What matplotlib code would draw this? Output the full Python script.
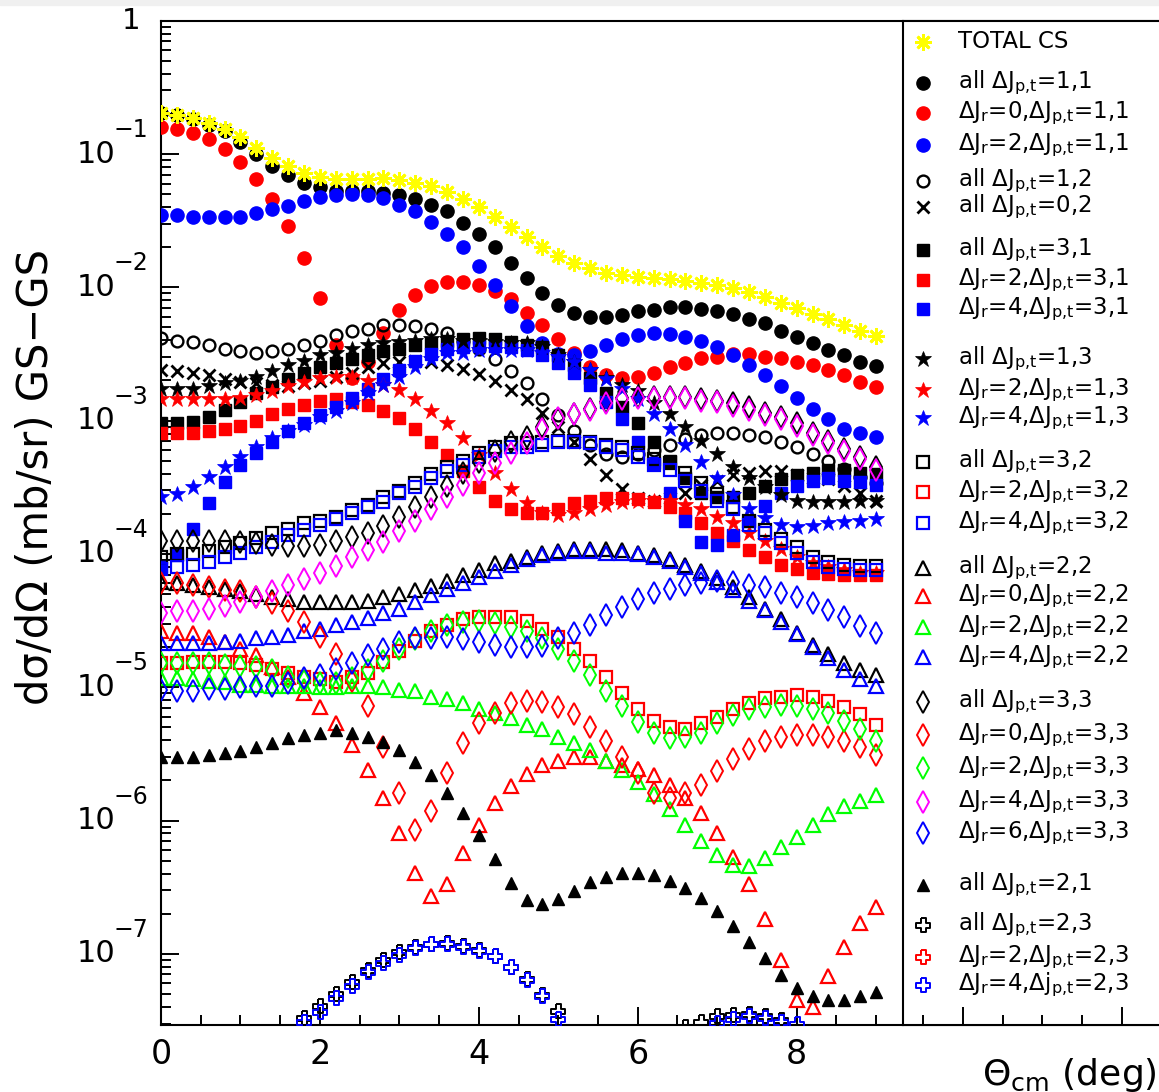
import numpy as np
import matplotlib
matplotlib.use('Agg')
import matplotlib.pyplot as plt
import matplotlib.transforms as mtransforms
from matplotlib.ticker import LogLocator, MultipleLocator, NullFormatter

plt.rcParams['font.family'] = ['DejaVu Sans']
plt.rcParams['mathtext.default'] = 'regular'

# scattering angle grid (deg)
theta = np.linspace(0, 9, 46)

# log10( dsigma/dOmega [mb/sr] ), one value per angle
total_cs = [-0.695, -0.707, -0.732, -0.770, -0.815, -0.875, -0.957, -1.032, -1.090, -1.145,
            -1.175, -1.188, -1.188, -1.188, -1.182, -1.195, -1.218, -1.240, -1.285, -1.338,
            -1.398, -1.473, -1.548, -1.623, -1.698, -1.765, -1.818, -1.855, -1.893, -1.908,
            -1.923, -1.930, -1.938, -1.953, -1.968, -1.983, -2.005, -2.035, -2.073, -2.118,
            -2.155, -2.200, -2.238, -2.283, -2.328, -2.365]
all_11 = [-0.69, -0.71, -0.74, -0.78, -0.83, -0.91, -1.00, -1.09, -1.16, -1.22,
          -1.25, -1.28, -1.28, -1.28, -1.29, -1.31, -1.34, -1.38, -1.43, -1.52,
          -1.60, -1.70, -1.82, -1.93, -2.04, -2.13, -2.19, -2.22, -2.22, -2.21,
          -2.18, -2.17, -2.15, -2.15, -2.16, -2.18, -2.20, -2.24, -2.27, -2.33,
          -2.37, -2.42, -2.47, -2.51, -2.56, -2.59]
r0_11 = [-0.80, -0.81, -0.84, -0.89, -0.96, -1.06, -1.19, -1.34, -1.54, -1.78,
         -2.08, -2.43, -2.68, -2.56, -2.34, -2.17, -2.06, -1.99, -1.96, -1.96,
         -1.98, -2.03, -2.09, -2.19, -2.28, -2.39, -2.49, -2.60, -2.66, -2.68,
         -2.67, -2.64, -2.60, -2.57, -2.53, -2.52, -2.50, -2.50, -2.52, -2.53,
         -2.56, -2.58, -2.62, -2.66, -2.71, -2.75]
r2_11 = [-1.46, -1.46, -1.47, -1.47, -1.47, -1.47, -1.44, -1.41, -1.39, -1.35,
         -1.32, -1.31, -1.30, -1.31, -1.33, -1.38, -1.43, -1.51, -1.60, -1.70,
         -1.84, -1.98, -2.14, -2.29, -2.42, -2.50, -2.51, -2.48, -2.43, -2.39,
         -2.36, -2.34, -2.35, -2.37, -2.40, -2.45, -2.51, -2.58, -2.66, -2.74,
         -2.83, -2.91, -2.99, -3.06, -3.09, -3.12]
all_12 = [-2.38, -2.40, -2.41, -2.43, -2.46, -2.48, -2.49, -2.48, -2.46, -2.43,
          -2.40, -2.36, -2.33, -2.31, -2.28, -2.28, -2.29, -2.31, -2.34, -2.40,
          -2.46, -2.54, -2.63, -2.72, -2.84, -2.96, -3.08, -3.18, -3.25, -3.27,
          -3.25, -3.22, -3.18, -3.14, -3.11, -3.09, -3.09, -3.11, -3.12, -3.16,
          -3.20, -3.25, -3.30, -3.36, -3.42, -3.47]
all_02 = [-2.62, -2.63, -2.64, -2.66, -2.69, -2.71, -2.72, -2.73, -2.74, -2.72,
          -2.70, -2.67, -2.64, -2.60, -2.57, -2.56, -2.55, -2.56, -2.58, -2.61,
          -2.65, -2.70, -2.77, -2.84, -2.94, -3.05, -3.16, -3.29, -3.41, -3.51,
          -3.58, -3.60, -3.58, -3.54, -3.48, -3.45, -3.41, -3.39, -3.38, -3.38,
          -3.41, -3.43, -3.44, -3.49, -3.54, -3.60]
all_31 = [-3.02, -3.02, -3.01, -2.97, -2.92, -2.86, -2.79, -2.75, -2.69, -2.64,
          -2.60, -2.57, -2.54, -2.51, -2.48, -2.46, -2.43, -2.42, -2.40, -2.39,
          -2.38, -2.39, -2.41, -2.43, -2.45, -2.51, -2.58, -2.68, -2.79, -2.90,
          -3.02, -3.16, -3.30, -3.43, -3.54, -3.57, -3.57, -3.54, -3.49, -3.44,
          -3.41, -3.39, -3.37, -3.37, -3.39, -3.40]
r2_31 = [-3.09, -3.09, -3.09, -3.08, -3.06, -3.04, -3.00, -2.95, -2.91, -2.88,
         -2.85, -2.84, -2.86, -2.88, -2.93, -2.98, -3.06, -3.16, -3.26, -3.38,
         -3.50, -3.60, -3.66, -3.69, -3.69, -3.66, -3.62, -3.60, -3.58, -3.58,
         -3.59, -3.61, -3.65, -3.69, -3.77, -3.84, -3.90, -3.97, -4.02, -4.08,
         -4.11, -4.14, -4.15, -4.16, -4.16, -4.16]
r4_31 = [-4.10, -4.01, -3.81, -3.62, -3.46, -3.33, -3.24, -3.16, -3.08, -3.02,
         -2.96, -2.90, -2.83, -2.76, -2.69, -2.62, -2.55, -2.50, -2.46, -2.45,
         -2.44, -2.44, -2.45, -2.47, -2.51, -2.57, -2.64, -2.73, -2.86, -2.99,
         -3.16, -3.32, -3.54, -3.75, -3.91, -3.93, -3.86, -3.75, -3.64, -3.54,
         -3.49, -3.45, -3.43, -3.45, -3.46, -3.48]
all_13 = [-2.76, -2.76, -2.76, -2.74, -2.72, -2.70, -2.67, -2.63, -2.58, -2.55,
          -2.51, -2.49, -2.46, -2.43, -2.42, -2.41, -2.40, -2.39, -2.39, -2.40,
          -2.40, -2.41, -2.42, -2.42, -2.45, -2.51, -2.56, -2.62, -2.68, -2.73,
          -2.78, -2.87, -2.95, -3.05, -3.15, -3.25, -3.35, -3.43, -3.50, -3.56,
          -3.60, -3.61, -3.61, -3.61, -3.60, -3.60]
r2_13 = [-2.84, -2.84, -2.84, -2.84, -2.84, -2.83, -2.81, -2.78, -2.74, -2.71,
         -2.68, -2.67, -2.67, -2.70, -2.73, -2.77, -2.84, -2.93, -3.02, -3.13,
         -3.26, -3.39, -3.51, -3.62, -3.69, -3.71, -3.69, -3.66, -3.63, -3.61,
         -3.60, -3.60, -3.60, -3.63, -3.66, -3.72, -3.77, -3.84, -3.90, -3.96,
         -4.02, -4.07, -4.10, -4.12, -4.14, -4.14]
r4_13 = [-3.57, -3.55, -3.50, -3.42, -3.35, -3.27, -3.20, -3.13, -3.08, -3.03,
         -2.97, -2.93, -2.87, -2.79, -2.73, -2.67, -2.60, -2.54, -2.49, -2.49,
         -2.47, -2.47, -2.47, -2.47, -2.49, -2.52, -2.56, -2.62, -2.69, -2.76,
         -2.84, -2.95, -3.06, -3.18, -3.31, -3.43, -3.56, -3.66, -3.73, -3.78,
         -3.80, -3.79, -3.77, -3.76, -3.75, -3.74]
all_32 = [-4.02, -4.00, -4.00, -3.98, -3.95, -3.92, -3.88, -3.84, -3.81, -3.77,
          -3.75, -3.72, -3.67, -3.63, -3.57, -3.53, -3.47, -3.40, -3.35, -3.30,
          -3.24, -3.20, -3.17, -3.17, -3.16, -3.15, -3.15, -3.16, -3.18, -3.20,
          -3.24, -3.29, -3.32, -3.39, -3.47, -3.55, -3.65, -3.75, -3.82, -3.89,
          -3.95, -4.02, -4.06, -4.08, -4.09, -4.09]
r2_32 = [-4.82, -4.82, -4.81, -4.81, -4.81, -4.82, -4.83, -4.86, -4.89, -4.92,
         -4.94, -4.96, -4.92, -4.89, -4.81, -4.73, -4.65, -4.58, -4.53, -4.49,
         -4.47, -4.47, -4.47, -4.50, -4.56, -4.62, -4.71, -4.80, -4.92, -5.04,
         -5.16, -5.25, -5.30, -5.31, -5.27, -5.22, -5.16, -5.12, -5.08, -5.07,
         -5.06, -5.07, -5.10, -5.15, -5.20, -5.28]
r4_32 = [-4.11, -4.10, -4.08, -4.06, -4.02, -3.99, -3.95, -3.91, -3.86, -3.82,
         -3.78, -3.74, -3.69, -3.65, -3.61, -3.54, -3.50, -3.43, -3.38, -3.33,
         -3.27, -3.23, -3.20, -3.20, -3.18, -3.16, -3.16, -3.17, -3.20, -3.22,
         -3.27, -3.33, -3.37, -3.45, -3.53, -3.60, -3.66, -3.78, -3.84, -3.92,
         -3.99, -4.06, -4.10, -4.11, -4.12, -4.12]
all_22 = [-4.21, -4.22, -4.23, -4.25, -4.26, -4.28, -4.30, -4.32, -4.34, -4.36,
          -4.36, -4.36, -4.36, -4.35, -4.32, -4.30, -4.27, -4.24, -4.20, -4.16,
          -4.12, -4.07, -4.05, -4.02, -3.99, -3.98, -3.96, -3.96, -3.96, -3.97,
          -3.99, -4.01, -4.04, -4.08, -4.13, -4.18, -4.25, -4.32, -4.41, -4.49,
          -4.59, -4.68, -4.75, -4.82, -4.87, -4.91]
r0_22 = [-4.58, -4.59, -4.59, -4.62, -4.66, -4.71, -4.76, -4.85, -4.92, -5.04,
         -5.15, -5.27, -5.43, -5.62, -5.83, -6.09, -6.39, -6.57, -6.48, -6.24,
         -6.03, -5.87, -5.74, -5.65, -5.58, -5.55, -5.52, -5.52, -5.55, -5.58,
         -5.61, -5.66, -5.73, -5.83, -5.94, -6.09, -6.27, -6.48, -6.74, -7.05,
         -7.35, -7.40, -7.17, -6.95, -6.77, -6.65]
r2_22 = [-4.93, -4.93, -4.94, -4.95, -4.96, -4.98, -4.98, -4.99, -4.99, -4.99,
         -5.00, -5.00, -4.99, -4.99, -5.00, -5.02, -5.03, -5.07, -5.09, -5.12,
         -5.16, -5.19, -5.23, -5.28, -5.31, -5.37, -5.42, -5.47, -5.55, -5.62,
         -5.71, -5.80, -5.91, -6.03, -6.15, -6.26, -6.33, -6.34, -6.28, -6.20,
         -6.12, -6.03, -5.95, -5.89, -5.85, -5.81]
r4_22 = [-4.67, -4.67, -4.67, -4.67, -4.66, -4.65, -4.63, -4.62, -4.61, -4.58,
         -4.56, -4.53, -4.51, -4.48, -4.44, -4.41, -4.36, -4.31, -4.26, -4.22,
         -4.17, -4.13, -4.08, -4.04, -4.01, -3.99, -3.98, -3.98, -3.99, -3.99,
         -4.00, -4.02, -4.05, -4.10, -4.14, -4.21, -4.27, -4.35, -4.42, -4.51,
         -4.60, -4.70, -4.78, -4.87, -4.94, -4.99]
all_33 = [-3.90, -3.90, -3.90, -3.90, -3.90, -3.91, -3.92, -3.93, -3.94, -3.94,
          -3.93, -3.90, -3.87, -3.84, -3.79, -3.72, -3.65, -3.57, -3.49, -3.39,
          -3.31, -3.23, -3.16, -3.12, -3.05, -2.99, -2.95, -2.91, -2.86, -2.83,
          -2.82, -2.82, -2.82, -2.82, -2.84, -2.85, -2.87, -2.90, -2.94, -2.97,
          -3.02, -3.09, -3.15, -3.21, -3.27, -3.35]
r0_33 = [-4.22, -4.22, -4.23, -4.25, -4.27, -4.28, -4.32, -4.37, -4.43, -4.51,
         -4.62, -4.75, -4.95, -5.14, -5.45, -5.79, -6.07, -5.93, -5.64, -5.42,
         -5.27, -5.19, -5.12, -5.10, -5.11, -5.15, -5.20, -5.30, -5.40, -5.52,
         -5.64, -5.79, -5.83, -5.79, -5.73, -5.63, -5.54, -5.46, -5.40, -5.37,
         -5.36, -5.36, -5.37, -5.40, -5.45, -5.51]
r2_33 = [-4.82, -4.82, -4.82, -4.82, -4.83, -4.84, -4.85, -4.87, -4.92, -4.95,
         -4.97, -4.97, -4.93, -4.87, -4.80, -4.71, -4.64, -4.58, -4.53, -4.51,
         -4.50, -4.52, -4.55, -4.58, -4.63, -4.71, -4.80, -4.91, -5.03, -5.14,
         -5.26, -5.34, -5.38, -5.37, -5.34, -5.27, -5.21, -5.16, -5.15, -5.13,
         -5.14, -5.16, -5.19, -5.25, -5.31, -5.40]
r4_33 = [-4.44, -4.43, -4.43, -4.41, -4.39, -4.36, -4.32, -4.28, -4.23, -4.19,
         -4.14, -4.09, -4.02, -3.97, -3.91, -3.83, -3.75, -3.66, -3.57, -3.48,
         -3.39, -3.32, -3.24, -3.17, -3.06, -2.98, -2.95, -2.92, -2.87, -2.84,
         -2.83, -2.83, -2.83, -2.83, -2.85, -2.86, -2.89, -2.92, -2.96, -2.99,
         -3.04, -3.11, -3.17, -3.23, -3.29, -3.37]
r6_33 = [-5.02, -5.03, -5.03, -5.01, -5.01, -5.00, -4.99, -4.99, -4.97, -4.93,
         -4.91, -4.86, -4.82, -4.76, -4.71, -4.66, -4.63, -4.63, -4.62, -4.64,
         -4.66, -4.68, -4.70, -4.70, -4.69, -4.63, -4.59, -4.53, -4.46, -4.40,
         -4.34, -4.29, -4.26, -4.23, -4.22, -4.20, -4.21, -4.23, -4.25, -4.29,
         -4.32, -4.37, -4.42, -4.47, -4.54, -4.59]
all_21 = [-5.52, -5.52, -5.52, -5.51, -5.49, -5.48, -5.45, -5.42, -5.38, -5.36,
          -5.34, -5.32, -5.34, -5.37, -5.41, -5.47, -5.56, -5.66, -5.79, -5.94,
          -6.11, -6.29, -6.47, -6.60, -6.63, -6.59, -6.53, -6.46, -6.42, -6.39,
          -6.39, -6.41, -6.45, -6.51, -6.58, -6.68, -6.79, -6.91, -7.03, -7.16,
          -7.26, -7.32, -7.35, -7.35, -7.32, -7.29]
nan = np.nan
all_23 = [nan, nan, nan, nan, nan, nan, nan, nan, nan, -7.48,
          -7.39, -7.30, -7.21, -7.12, -7.05, -6.99, -6.95, -6.93, -6.92, -6.94,
          -6.97, -7.02, -7.10, -7.19, -7.31, -7.43, nan, nan, nan, nan,
          nan, nan, nan, -7.55, -7.51, -7.47, -7.46, -7.45, -7.47, -7.50,
          nan, nan, nan, nan, nan, nan]
r4_23 = [nan, nan, nan, nan, nan, nan, nan, nan, nan, -7.51,
         -7.44, -7.33, -7.24, -7.14, -7.07, -7.01, -6.96, -6.93, -6.93, -6.95,
         -6.98, -7.02, -7.10, -7.20, -7.32, -7.49, nan, nan, nan, nan,
         nan, nan, nan, nan, nan, -7.52, -7.49, -7.47, -7.48, -7.51,
         -7.53, nan, nan, nan, nan, nan]

# open cross (plus outline) marker
w = 0.36
open_cross = [(-w, 1), (w, 1), (w, w), (1, w), (1, -w), (w, -w), (w, -1), (-w, -1),
              (-w, -w), (-1, -w), (-1, w), (-w, w), (-w, 1)]

STY = {
    'ast':  dict(marker=(8, 2, 0), ms=12, mew=2.0, fill=False),
    'circ': dict(marker='o', ms=9.5, mew=1.0, fill=True),
    'ocirc': dict(marker='o', ms=8.5, mew=1.7, fill=False),
    'x':    dict(marker='x', ms=9, mew=2.0, fill=False),
    'sq':   dict(marker='s', ms=8.3, mew=1.0, fill=True),
    'star': dict(marker='*', ms=12, mew=0.5, fill=True),
    'osq':  dict(marker='s', ms=9, mew=1.6, fill=False),
    'otri': dict(marker='^', ms=10, mew=1.6, fill=False),
    'odia': dict(marker='d', ms=11, mew=1.4, fill=False),
    'tri':  dict(marker='^', ms=9, mew=1.0, fill=True),
    'ocross': dict(marker=open_cross, ms=10, mew=1.4, fill=False),
}

PT = "$_{p{,}t}$"
series = [
    ("TOTAL CS", total_cs, 'ast', '#ffff00', 42),
    ("all \u0394J" + PT + "=1,1", all_11, 'circ', 'black', 83),
    ("\u0394J$_r$=0,\u0394J" + PT + "=1,1", r0_11, 'circ', '#ff0000', 113),
    ("\u0394J$_r$=2,\u0394J" + PT + "=1,1", r2_11, 'circ', '#0000ff', 145),
    ("all \u0394J" + PT + "=1,2", all_12, 'ocirc', 'black', 181),
    ("all \u0394J" + PT + "=0,2", all_02, 'x', 'black', 207),
    ("all \u0394J" + PT + "=3,1", all_31, 'sq', 'black', 250),
    ("\u0394J$_r$=2,\u0394J" + PT + "=3,1", r2_31, 'sq', '#ff0000', 280),
    ("\u0394J$_r$=4,\u0394J" + PT + "=3,1", r4_31, 'sq', '#0000ff', 309),
    ("all \u0394J" + PT + "=1,3", all_13, 'star', 'black', 359),
    ("\u0394J$_r$=2,\u0394J" + PT + "=1,3", r2_13, 'star', '#ff0000', 390),
    ("\u0394J$_r$=4,\u0394J" + PT + "=1,3", r4_13, 'star', '#0000ff', 418),
    ("all \u0394J" + PT + "=3,2", all_32, 'osq', 'black', 462),
    ("\u0394J$_r$=2,\u0394J" + PT + "=3,2", r2_32, 'osq', '#ff0000', 492),
    ("\u0394J$_r$=4,\u0394J" + PT + "=3,2", r4_32, 'osq', '#0000ff', 523),
    ("all \u0394J" + PT + "=2,2", all_22, 'otri', 'black', 568),
    ("\u0394J$_r$=0,\u0394J" + PT + "=2,2", r0_22, 'otri', '#ff0000', 596),
    ("\u0394J$_r$=2,\u0394J" + PT + "=2,2", r2_22, 'otri', '#00ff00', 627),
    ("\u0394J$_r$=4,\u0394J" + PT + "=2,2", r4_22, 'otri', '#0000ff', 657),
    ("all \u0394J" + PT + "=3,3", all_33, 'odia', 'black', 702),
    ("\u0394J$_r$=0,\u0394J" + PT + "=3,3", r0_33, 'odia', '#ff0000', 735),
    ("\u0394J$_r$=2,\u0394J" + PT + "=3,3", r2_33, 'odia', '#00ff00', 768),
    ("\u0394J$_r$=4,\u0394J" + PT + "=3,3", r4_33, 'odia', '#ff00ff', 802),
    ("\u0394J$_r$=6,\u0394J" + PT + "=3,3", r6_33, 'odia', '#0000ff', 833),
    ("all \u0394J" + PT + "=2,1", all_21, 'tri', 'black', 885),
    ("all \u0394J" + PT + "=2,3", all_23, 'ocross', 'black', 925),
    ("\u0394J$_r$=2,\u0394J" + PT + "=2,3", None, 'ocross', '#ff0000', 957),
    ("\u0394J$_r$=4,\u0394j" + PT + "=2,3", r4_23, 'ocross', '#0000ff', 985),
]


def mstyle(key, color):
    s = STY[key]
    return dict(marker=s['marker'], ms=s['ms'], mew=s['mew'], mec=color,
                mfc=color if s['fill'] else 'none', linestyle='none')


W, H = 1159, 1092
fig = plt.figure(figsize=(W / 100, H / 100), dpi=100)
fig.patches.append(plt.Rectangle((0, 1 - 5 / H), 1, 5 / H, transform=fig.transFigure,
                                 color='#f0f0f0', zorder=0))

x0, x1, ytop, ybot = 161, 1159, 20.7, 1025
ax = fig.add_axes([x0 / W, (H - ybot) / H, (x1 - x0) / W, (ybot - ytop) / H])
ax.set_yscale('log')
ax.set_xlim(0, (x1 - x0) / 79.46)
ax.set_ylim(10 ** -7.534, 1)

for i, (lab, vals, key, col, ly) in enumerate(series):
    if vals is None:
        continue
    z = 10 if key == 'ast' else 3 + i * 0.01
    ax.plot(theta, 10 ** np.asarray(vals, dtype=float), zorder=z, **mstyle(key, col))

for sp in ['left', 'bottom', 'top']:
    ax.spines[sp].set_linewidth(1.5)
ax.spines['right'].set_visible(False)

ax.set_xticks(np.arange(0, 13, 2))
ax.set_xticklabels(['0', '2', '4', '6', '8', '', ''])
ax.xaxis.set_minor_locator(MultipleLocator(0.5))
ax.yaxis.set_major_locator(LogLocator(base=10, numticks=20))
ax.yaxis.set_minor_locator(LogLocator(base=10, subs=np.arange(2, 10), numticks=20))
ax.yaxis.set_major_formatter(NullFormatter())
ax.yaxis.set_minor_formatter(NullFormatter())
ax.tick_params(axis='both', which='major', direction='in', length=13, width=1.4)
ax.tick_params(axis='both', which='minor', direction='in', length=7, width=1.4)
ax.tick_params(axis='x', labelsize=24, pad=9)
ax.tick_params(top=False, right=False, which='both')

# y tick labels in ROOT style: 10 with raised exponent
ytr = ax.get_yaxis_transform()
up = mtransforms.ScaledTranslation(0, 0.24, fig.dpi_scale_trans)
ax.text((131 - x0) / (x1 - x0), 1, "1", transform=ytr, ha='center', va='center', fontsize=21)
for k in range(1, 8):
    ax.text((115 - x0) / (x1 - x0), 10.0 ** -k, "10", transform=ytr,
            ha='right', va='center', fontsize=22)
    ax.text((113 - x0) / (x1 - x0), 10.0 ** -k, "\u2212%d" % k, transform=ytr + up,
            ha='left', va='center', fontsize=17)

fig.text(36 / W, 1 - 477 / H, "d\u03c3/d\u03a9 (mb/sr) GS\u2212GS", rotation=90,
         ha='center', va='center', fontsize=30)
fig.text(1157 / W, (H - 1085) / H, r"$\Theta_{cm}$ (deg)", ha='right', va='baseline',
         fontsize=26)

# legend pad on the right
lx0 = 903
lax = fig.add_axes([lx0 / W, (H - ybot) / H, (x1 - lx0) / W, (ybot - ytop) / H], zorder=5)
lax.set_facecolor('white')
lax.set_xlim(10 - (963 - lx0) / 79.46, 10 + (x1 - 963) / 79.46)
lax.set_ylim(ybot, ytop)
for sp in ['left', 'bottom', 'top']:
    lax.spines[sp].set_linewidth(1.5)
lax.spines['right'].set_visible(False)
lax.xaxis.set_major_locator(MultipleLocator(2))
lax.xaxis.set_minor_locator(MultipleLocator(0.5))
lax.set_yticks([])
lax.tick_params(axis='x', which='major', direction='in', length=13, width=1.4, labelbottom=False)
lax.tick_params(axis='x', which='minor', direction='in', length=7, width=1.4)

mx = 10 - (963 - 923) / 79.46
tx = 10 - (963 - 958) / 79.46
for lab, vals, key, col, ly in series:
    lax.plot([mx], [ly], **mstyle(key, col))
    lax.text(tx, ly, lab, ha='left', va='center', fontsize=16.5)

fig.savefig('out.png', dpi=100)
